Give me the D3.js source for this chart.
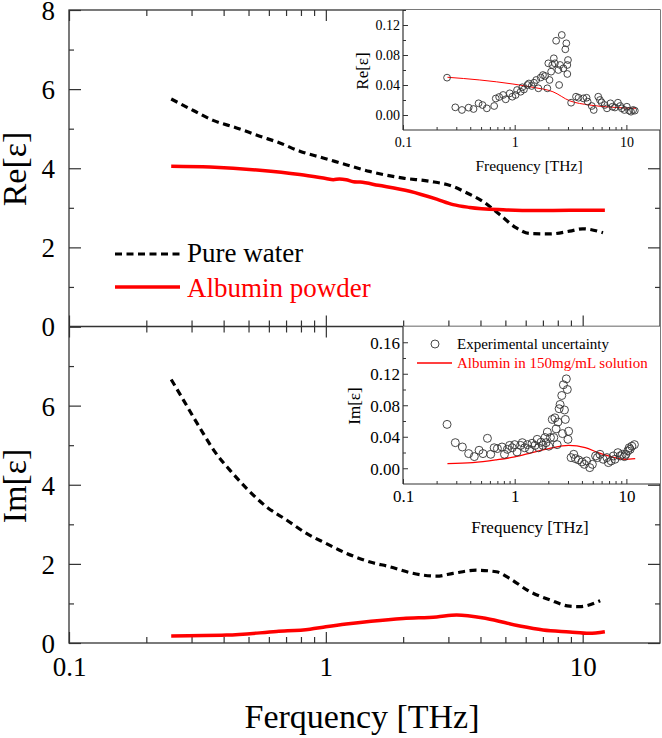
<!DOCTYPE html>
<html><head><meta charset="utf-8">
<script src="https://cdn.jsdelivr.net/npm/d3@7"></script>
<style>
body{margin:0;background:#fff}
</style>
</head><body>
<svg id="c" width="662" height="738"></svg>
<script>
// ---------- data ----------
const waterReFreq = [0.25,0.305,0.364,0.449,0.553,0.662,0.792,0.976,1.2,1.48,2.0,2.54,3.13,3.53,4.09,4.75,5.52,6.22,7.45,8.9,10.0,12.0];
const waterReVal  = [5.75,5.46,5.21,5.02,4.81,4.64,4.43,4.26,4.09,3.92,3.75,3.67,3.54,3.38,3.16,2.83,2.49,2.35,2.34,2.41,2.47,2.37];
const albuminReFreq = [0.25,0.354,0.553,0.792,1.0,1.07,1.13,1.2,1.28,1.36,1.6,2.12,2.7,3.13,3.63,4.9,6.6,8.9,12.2];
const albuminReVal  = [4.05,4.03,3.95,3.84,3.74,3.71,3.73,3.71,3.66,3.65,3.57,3.42,3.22,3.08,3.01,2.95,2.93,2.94,2.94];
const waterImFreq = [0.25,0.279,0.305,0.333,0.37,0.423,0.491,0.588,0.703,0.841,1.0,1.2,1.5,1.77,2.12,2.7,3.13,3.85,4.61,5.2,6.22,7.45,8.9,9.73,11.7];
const waterImVal  = [6.66,6.14,5.71,5.30,4.83,4.37,3.91,3.44,3.11,2.77,2.52,2.27,2.04,1.93,1.78,1.69,1.76,1.84,1.80,1.63,1.30,1.09,0.93,0.92,1.07];
const albuminImFreq = [0.25,0.411,0.643,0.867,1.0,1.2,1.5,2.0,2.7,3.23,4.22,5.69,7.01,8.9,10.6,12.2];
const albuminImVal  = [0.18,0.20,0.29,0.35,0.41,0.48,0.55,0.62,0.66,0.71,0.62,0.43,0.33,0.28,0.245,0.285];

// inset Re: experimental points and albumin solution
const insetReFreq = [0.248,0.294,0.337,0.387,0.428,0.475,0.515,0.563,0.655,0.677,0.726,0.788,0.831,0.903,0.953,1.02,1.05,1.13,1.17,1.21,1.30,1.34,1.42,1.49,1.56,1.63,1.71,1.79,1.87,1.96,2.0,2.05,2.12,2.17,2.24,2.29,2.35,2.46,2.5,2.55,2.64,2.73,2.84,2.9,2.96,3.0,2.96,3.2,3.54,3.73,4.12,4.4,4.5,4.9,5.1,5.6,5.8,6.0,6.4,6.7,7.2,7.5,7.9,8.4,8.8,9.1,9.6,10.1,10.6,11.0,11.5,11.9];
const insetReVal  = [0.0498,0.0102,0.0067,0.0098,0.008,0.0156,0.0133,0.0089,0.012,0.022,0.024,0.0267,0.0209,0.0289,0.0244,0.0267,0.0333,0.031,0.037,0.034,0.040,0.042,0.0387,0.043,0.0467,0.0356,0.050,0.0533,0.052,0.0356,0.0689,0.0467,0.0578,0.0667,0.0756,0.0689,0.099,0.06,0.04,0.0667,0.1067,0.0622,0.0876,0.0956,0.0667,0.0733,0.0547,0.0164,0.0244,0.023,0.0222,0.023,0.0178,0.012,0.0067,0.0244,0.02,0.0169,0.0133,0.0089,0.0156,0.011,0.010,0.0164,0.012,0.0089,0.0067,0.011,0.0058,0.0044,0.0067,0.0058];
const insetReLineFreq = [0.25,0.487,0.965,1.46,2.2,3.1,4.68,7.55,12.2];
const insetReLineVal  = [0.0503,0.0467,0.0413,0.0369,0.031,0.019,0.0133,0.0103,0.0089];

// inset Im
const insetImFreq = [0.248,0.294,0.34,0.387,0.435,0.48,0.52,0.57,0.61,0.655,0.70,0.77,0.81,0.86,0.90,0.95,1.0,1.05,1.13,1.17,1.23,1.30,1.36,1.43,1.52,1.59,1.64,1.72,1.79,1.87,1.91,1.96,2.02,2.09,2.17,2.24,2.29,2.35,2.4,2.44,2.5,2.55,2.64,2.68,2.73,2.79,2.84,2.9,2.96,3.0,3.04,3.2,3.38,3.5,3.73,4.0,4.2,4.4,4.7,4.96,5.3,5.5,5.8,6.2,6.7,6.9,7.3,7.65,7.9,8.4,8.8,9.2,9.6,9.9,10.3,10.6,10.8,11.2,11.8];
const insetImVal  = [0.0557,0.0325,0.027,0.0186,0.0148,0.0228,0.0186,0.038,0.0177,0.026,0.025,0.027,0.0177,0.024,0.029,0.026,0.030,0.0207,0.029,0.0325,0.026,0.030,0.024,0.0317,0.029,0.0367,0.026,0.033,0.029,0.039,0.0325,0.046,0.028,0.039,0.062,0.039,0.064,0.050,0.030,0.0587,0.0756,0.081,0.0924,0.044,0.106,0.074,0.062,0.1135,0.100,0.0367,0.047,0.0135,0.0177,0.0122,0.0106,0.008,0.005,0.0093,0.0008,0.005,0.0156,0.0135,0.0177,0.0114,0.0135,0.0072,0.0093,0.0156,0.0114,0.0198,0.0156,0.0177,0.0148,0.0177,0.022,0.026,0.024,0.028,0.030];
const insetImLineFreq = [0.25,0.42,0.677,1.0,1.43,2.02,3.04,4.28,5.6,7.4,9.7,12.0];
const insetImLineVal  = [0.0059,0.0072,0.0106,0.0144,0.0198,0.0249,0.0291,0.0262,0.0198,0.0144,0.0114,0.0122];

const mainYTicks = [0,2,4,6,8];
const xMajor = [0.1,1,10];
const xMinor = [0.2,0.3,0.4,0.5,0.6,0.7,0.8,0.9,2,3,4,5,6,7,8,9];
const insetReTicks = [0,0.04,0.08,0.12];
const insetImTicks = [0,0.04,0.08,0.12,0.16];

const seriesNames = ["Pure water","Albumin powder"];
const insetLegend = ["Experimental uncertainty","Albumin in 150mg/mL solution"];

// ---------- drawing ----------
const FONT = "Liberation Serif";
const svg = d3.select("#c");
const RED = "#ff0000", AX = "#333";
const zip = (f,v) => f.map((d,i)=>[d,v[i]]);

const L = 69, R = 660, T = 10, MID = 326.5, B = 643;
const x = d3.scaleLog().domain([0.1,20]).range([L,R]);
const yTop = d3.scaleLinear().domain([0,8]).range([MID,T]);
const yBot = d3.scaleLinear().domain([0,8]).range([B,MID]);

function clean(g){
  g.attr("font-family",FONT); g.select(".domain").remove();
  g.selectAll("line").attr("stroke",AX).attr("stroke-width",1.2);
  g.selectAll("text").attr("font-family",FONT).attr("fill","#000");
  return g;
}

// y axes main
[[yTop,[0,2,4,6,8]],[yBot,[0,2,4,6]]].forEach(([ys,lab])=>{
  const gl = svg.append("g").attr("transform",`translate(${L},0)`)
    .call(d3.axisLeft(ys).tickValues(mainYTicks).tickSize(-12).tickPadding(14)
      .tickFormat(d=>lab.includes(d)?d:""));
  clean(gl);
  gl.selectAll("text").attr("font-size",27).attr("dy","0.35em");
  clean(svg.append("g").attr("transform",`translate(${L},0)`)
    .call(d3.axisLeft(ys).tickValues([1,3,5,7]).tickSize(-5).tickFormat("")));
  clean(svg.append("g").attr("transform",`translate(${R},0)`)
    .call(d3.axisRight(ys).tickValues(mainYTicks).tickSize(-12).tickFormat("")));
  clean(svg.append("g").attr("transform",`translate(${R},0)`)
    .call(d3.axisRight(ys).tickValues([1,3,5,7]).tickSize(-5).tickFormat("")));
});

// x axes main
function xTicks(y, gen, labels){
  const g = svg.append("g").attr("transform",`translate(0,${y})`)
    .call(gen(x).tickValues(xMajor).tickSize(-11).tickPadding(14)
      .tickFormat(d=>labels? (d<1?"0.1":String(d)) : ""));
  clean(g);
  g.selectAll("text").attr("font-size",27);
  clean(svg.append("g").attr("transform",`translate(0,${y})`)
    .call(gen(x).tickValues(xMinor).tickSize(-6).tickFormat("")));
}
xTicks(B, d3.axisBottom, true);
xTicks(T, d3.axisTop, false);
xTicks(MID, d3.axisBottom, false);
xTicks(MID, d3.axisTop, false);

// frame
svg.append("rect").attr("x",L).attr("y",T).attr("width",R-L).attr("height",B-T)
  .attr("fill","none").attr("stroke",AX).attr("stroke-width",1.3);
svg.append("line").attr("x1",L).attr("x2",R).attr("y1",MID).attr("y2",MID)
  .attr("stroke",AX).attr("stroke-width",1.3);

// curves main
const line = ys => d3.line().x(d=>x(d[0])).y(d=>ys(d[1])).curve(d3.curveMonotoneX);
function drawCurve(data, ys, dashed){
  svg.append("path").datum(data).attr("d",line(ys)).attr("fill","none")
    .attr("stroke",dashed?"#000":RED).attr("stroke-width",dashed?3.2:3.5)
    .attr("stroke-dasharray",dashed?"7,4.5":null).attr("stroke-linejoin","round");
}
drawCurve(zip(waterReFreq,waterReVal), yTop, true);
drawCurve(zip(albuminReFreq,albuminReVal), yTop, false);
drawCurve(zip(waterImFreq,waterImVal), yBot, true);
drawCurve(zip(albuminImFreq,albuminImVal), yBot, false);

// axis titles
const txt = () => svg.append("text").attr("font-family",FONT);
txt().attr("transform","translate(26,169) rotate(-90)").attr("text-anchor","middle")
  .attr("font-size",34).text("Re[ε]");
txt().attr("transform","translate(26,486) rotate(-90)").attr("text-anchor","middle")
  .attr("font-size",34).text("Im[ε]");
txt().attr("x",362).attr("y",728).attr("text-anchor","middle")
  .attr("font-size",34).text("Ferquency [THz]");

// main legend
svg.append("line").attr("x1",115).attr("x2",180).attr("y1",254).attr("y2",254)
  .attr("stroke","#000").attr("stroke-width",3.2).attr("stroke-dasharray","7,4.5");
txt().attr("x",187).attr("y",262).attr("font-size",27).text(seriesNames[0]);
svg.append("line").attr("x1",115).attr("x2",180).attr("y1",287).attr("y2",287)
  .attr("stroke",RED).attr("stroke-width",3.5);
txt().attr("x",187).attr("y",297).attr("font-size",27).attr("fill",RED).text(seriesNames[1]);

// ---------- insets ----------
function inset(cfg){
  const xi = d3.scaleLog().domain([0.1,20]).range([403,R]);
  const yi = d3.scaleLinear().domain(cfg.ydom).range([cfg.bottom,cfg.top]);
  svg.append("rect").attr("x",403).attr("y",cfg.top).attr("width",R-403).attr("height",cfg.bottom-cfg.top)
    .attr("fill","#fff").attr("stroke","none");
  const gy = svg.append("g").attr("transform","translate(403,0)")
    .call(d3.axisLeft(yi).tickValues(cfg.yticks).tickSize(-5).tickPadding(3).tickFormat(d3.format(".2f")));
  clean(gy); gy.selectAll("line").attr("stroke-width",1);
  gy.selectAll("text").attr("font-size",cfg.fs).attr("dy","0.35em");
  const gym = svg.append("g").attr("transform","translate(403,0)")
    .call(d3.axisLeft(yi).tickValues(cfg.yticks.map(d=>d+0.02).filter(d=>d<cfg.ydom[1])).tickSize(-3).tickFormat(""));
  clean(gym); gym.selectAll("line").attr("stroke-width",1);
  const gx = svg.append("g").attr("transform",`translate(0,${cfg.bottom})`)
    .call(d3.axisBottom(xi).tickValues(xMajor).tickSize(-5).tickPadding(0).tickFormat(d=>d<1?"0.1":String(d)));
  clean(gx); gx.selectAll("line").attr("stroke-width",1);
  gx.selectAll("text").attr("font-size",cfg.fs).attr("dy",null).attr("y",cfg.xlabY-cfg.bottom);
  const gxm = svg.append("g").attr("transform",`translate(0,${cfg.bottom})`)
    .call(d3.axisBottom(xi).tickValues(xMinor).tickSize(-3).tickFormat(""));
  clean(gxm); gxm.selectAll("line").attr("stroke-width",1);
  svg.append("line").attr("x1",403).attr("x2",403).attr("y1",cfg.top).attr("y2",cfg.bottom).attr("stroke",AX).attr("stroke-width",1.2);
  svg.append("line").attr("x1",403).attr("x2",R).attr("y1",cfg.bottom).attr("y2",cfg.bottom).attr("stroke",AX).attr("stroke-width",1.2);
  svg.append("path").datum(zip(cfg.lf,cfg.lv))
    .attr("d",d3.line().x(d=>xi(d[0])).y(d=>yi(d[1])).curve(d3.curveMonotoneX))
    .attr("fill","none").attr("stroke",RED).attr("stroke-width",cfg.lw);
  svg.append("g").selectAll("circle").data(zip(cfg.pf,cfg.pv)).join("circle")
    .attr("cx",d=>xi(d[0])).attr("cy",d=>yi(d[1])).attr("r",cfg.r)
    .attr("fill","none").attr("stroke","#333").attr("stroke-width",0.9);
  txt().attr("transform",`translate(${cfg.ylabX},${cfg.ylabY}) rotate(-90)`)
    .attr("text-anchor","middle").attr("font-size",17).text(cfg.ylab);
  txt().attr("x",cfg.titleX).attr("y",cfg.titleY).attr("text-anchor","middle")
    .attr("font-size",cfg.tfs).text("Frequency [THz]");
}
inset({top:T,bottom:130,ydom:[-0.02,0.14],yticks:insetReTicks,fs:14,xlabY:147,
  lf:insetReLineFreq,lv:insetReLineVal,lw:1,pf:insetReFreq,pv:insetReVal,r:3.4,
  ylab:"Re[ε]",ylabX:368,ylabY:71,titleX:529,titleY:171,tfs:15.5});
inset({top:MID,bottom:484,ydom:[-0.02,0.18],yticks:insetImTicks,fs:17,xlabY:502,
  lf:insetImLineFreq,lv:insetImLineVal,lw:1.3,pf:insetImFreq,pv:insetImVal,r:4,
  ylab:"Im[ε]",ylabX:360,ylabY:406,titleX:530,titleY:533,tfs:17});

// inset legend
svg.append("circle").attr("cx",435).attr("cy",344).attr("r",4).attr("fill","none").attr("stroke","#333").attr("stroke-width",0.9);
txt().attr("x",457).attr("y",349).attr("font-size",15).text(insetLegend[0]);
svg.append("line").attr("x1",417).attr("x2",452).attr("y1",363).attr("y2",363).attr("stroke",RED).attr("stroke-width",1.3);
txt().attr("x",457).attr("y",368).attr("font-size",15).attr("fill",RED).text(insetLegend[1]);
</script>
</body></html>
